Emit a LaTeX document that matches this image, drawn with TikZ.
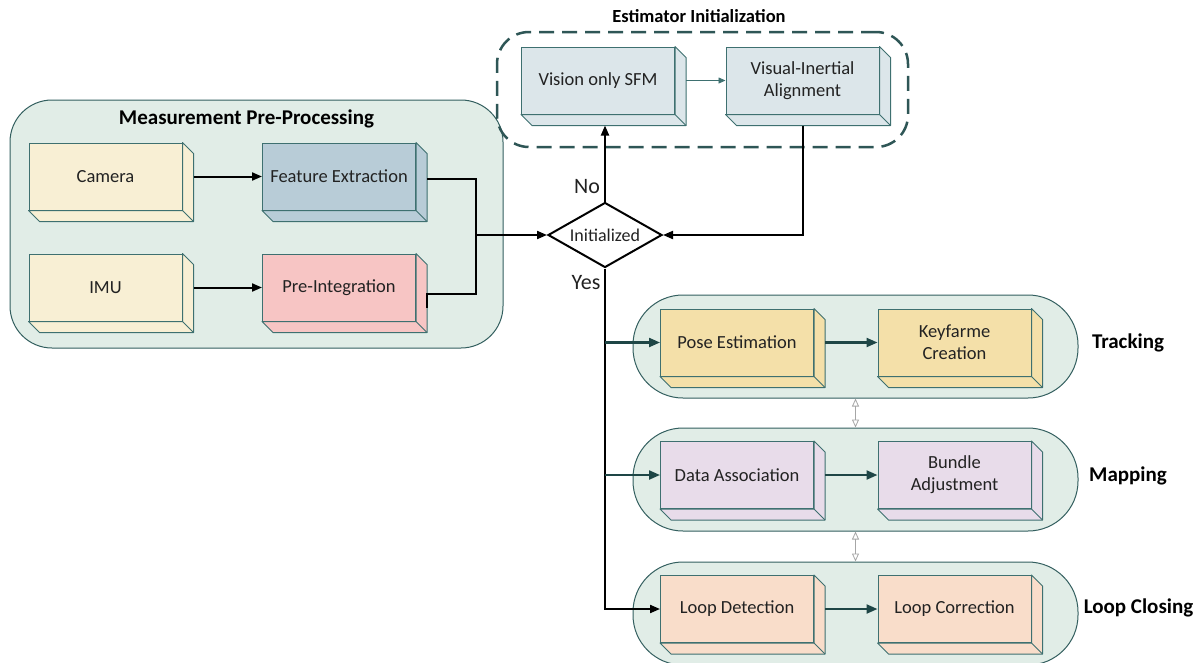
\documentclass[tikz,border=0pt]{standalone}
\usepackage{fontspec}
\setmainfont{Carlito}
\usetikzlibrary{arrows.meta,calc,shapes.geometric}

\definecolor{grpfill}{HTML}{E1EDE7}
\definecolor{grpline}{HTML}{335F5F}
\definecolor{edge}{HTML}{3E7070}
\definecolor{darkteal}{HTML}{1E4646}
\definecolor{dashteal}{HTML}{2E5656}
\definecolor{cream}{HTML}{F8EFD4}
\definecolor{steel}{HTML}{B8CCD7}
\definecolor{rose}{HTML}{F7C5C4}
\definecolor{ice}{HTML}{DCE6EA}
\definecolor{sand}{HTML}{F4E0A9}
\definecolor{lilac}{HTML}{E8DCEA}
\definecolor{peach}{HTML}{F9DDCA}
\definecolor{txt}{HTML}{222222}

\tikzset{
  block/.style={draw=edge, line width=1pt, minimum width=153pt, minimum height=67pt,
    inner sep=0pt, align=center, text=txt, font=\fontsize{18.5}{22}\selectfont},
  group/.style={draw=grpline, line width=1pt, fill=grpfill, inner sep=0pt},
  lane/.style={group, minimum width=445pt, minimum height=103pt, rounded corners=50pt},
  grptitle/.style={font=\fontsize{21}{25}\selectfont\bfseries, text=black},
  blkline/.style={draw=black, line width=2pt},
  blkarrow/.style={blkline, -{Triangle[length=10pt,width=8pt]}},
  tealarrow/.style={draw=darkteal, line width=2.2pt, -{Triangle[length=11pt,width=9pt]}},
  thinarrow/.style={draw=edge, line width=0.8pt, -{Triangle[length=7pt,width=6pt]}},
  linkarrow/.style={draw=black!35, line width=0.8pt,
    {Triangle[open,length=8pt,width=7pt]}-{Triangle[open,length=8pt,width=7pt]}},
  decision/.style={diamond, aspect=1.754, draw=black, line width=2pt, fill=white, inner sep=0pt,
    minimum width=114pt, minimum height=65pt, text=txt, font=\fontsize{18}{21}\selectfont},
}

% A block with a visible depth: front face plus right and bottom faces
\newcommand{\solidbox}[4]{%
  \node[block, fill=#3] (#1) at (#2) {#4};
  \filldraw[draw=edge, fill=#3, line width=1pt, line join=round]
    (#1.north east) -- ++(11,11) -- ($(#1.south east)+(11,11)$)
    -- ($(#1.south west)+(11,11)$) -- (#1.south west) -- (#1.south east) -- cycle;
  \draw[edge, line width=1pt] (#1.south east) -- ++(11,11);
  \coordinate (#1-r) at ($(#1.east)+(11,0)$);
  \coordinate (#1-b) at ($(#1.south)+(0,11)$);
}

\begin{document}
\begin{tikzpicture}[x=1pt, y=-1pt]
\useasboundingbox (0,0) rectangle (1204,662);

% ---- containers ----
\node[group, minimum width=493pt, minimum height=248pt, rounded corners=42pt] (mpp) at (256.5,224) {};
\node[grptitle] (mpptitle) at (246.5,119) {Measurement Pre-Processing};

\node[draw=dashteal, line width=2.5pt, dash pattern=on 15pt off 8pt, rounded corners=32pt,
      minimum width=411pt, minimum height=115pt] (est) at (702.5,89.5) {};
\node[grptitle, font=\fontsize{18.5}{22}\selectfont\bfseries] (esttitle) at (699,16) {Estimator Initialization};

\node[lane] (trk) at (855.5,346.5) {};
\node[lane] (map) at (855.5,479.5) {};
\node[lane] (lcl) at (855.5,613.5) {};
\node[grptitle] (trktitle) at (1128,343) {Tracking};
\node[grptitle] (maptitle) at (1128,476) {Mapping};
\node[grptitle] (lcltitle) at (1138.5,608) {Loop Closing};

% ---- blocks ----
\solidbox{cam}{105.5,176.5}{cream}{Camera}
\solidbox{feat}{339,176.5}{steel}{Feature Extraction}
\solidbox{imu}{105.5,287.5}{cream}{IMU}
\solidbox{pre}{339,287.5}{rose}{Pre-Integration}

\solidbox{sfm}{598,80.5}{ice}{Vision only SFM}
\solidbox{via}{802.5,80.5}{ice}{Visual-Inertial\\Alignment}

\solidbox{pose}{737,342.5}{sand}{Pose Estimation}
\solidbox{key}{954.5,342.5}{sand}{Keyfarme\\Creation}
\solidbox{data}{737,475}{lilac}{Data Association}
\solidbox{bundle}{954.5,475}{lilac}{Bundle\\Adjustment}
\solidbox{ldet}{737,609}{peach}{Loop Detection}
\solidbox{lcor}{954.5,609}{peach}{Loop Correction}

% ---- decision ----
\node[decision] (init) at (605,235) {Initialized};
\node[font=\fontsize{22}{26}\selectfont, text=txt] (no) at ($(init.north)+(-18,-15)$) {No};
\node[font=\fontsize{22}{26}\selectfont, text=txt] (yes) at ($(init.south)+(-19,14)$) {Yes};

% ---- connectors ----
\draw[blkarrow] (cam-r) -- (feat.west);
\draw[blkarrow] (imu-r) -- (pre.west);

\coordinate (jn) at (476,235);
\draw[blkline] ($(feat-r)+(0,2)$) -| (jn);
\draw[blkline] ($(pre-r)+(0,20)$) -- ($(pre-r)+(0,6.5)$) -| (jn);
\draw[blkarrow] (jn) -- (init.west);

\draw[blkarrow] (init.north) -- (init.north |- sfm-b);
\draw[thinarrow] (sfm-r) -- (via.west);
\draw[blkarrow] (via-b) |- (init.east);

\draw[blkarrow] (init.south) |- (ldet.west);
\draw[tealarrow] (init.south |- pose.west) -- (pose.west);
\draw[tealarrow] (init.south |- data.west) -- (data.west);

\draw[tealarrow] (pose-r) -- (key.west);
\draw[tealarrow] (data-r) -- (bundle.west);
\draw[tealarrow] (ldet-r) -- (lcor.west);

\draw[linkarrow] (trk.south) -- (map.north);
\draw[linkarrow] (map.south) -- (lcl.north);
\end{tikzpicture}
\end{document}
